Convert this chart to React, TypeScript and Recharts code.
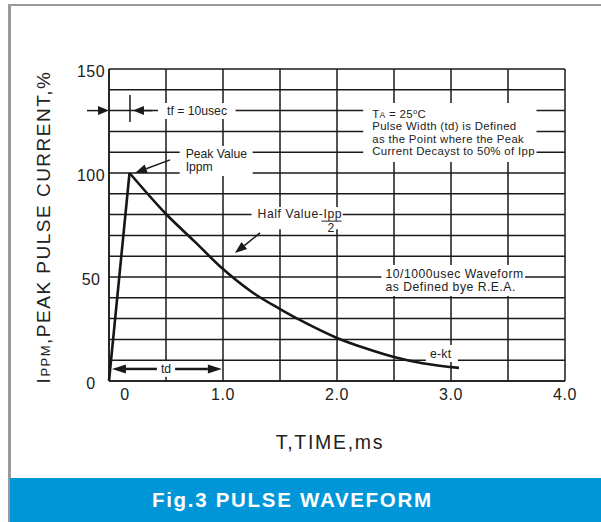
import { CartesianGrid, Line, LineChart, ReferenceArea, ReferenceLine, XAxis, YAxis } from "recharts";

// pulse waveform: time in ms, current in % of Ippm
const timeMs = [0, 0.18, 0.5, 0.75, 1.0, 1.25, 1.5, 1.75, 2.0, 2.25, 2.5, 2.75, 3.07];
const currentPct = [0, 100, 80.3, 67.1, 53.8, 42.9, 34.6, 27.2, 20.7, 15.7, 11.5, 8.5, 6.3];
const peakIndex = 1;

const xTicks = [0, 0.5, 1, 1.5, 2, 2.5, 3, 3.5, 4];
const xTickLabels: Record<number, string> = { 0: "0", 1: "1.0", 2: "2.0", 3: "3.0", 4: "4.0" };
const yTicks = [0, 10, 20, 30, 40, 50, 60, 70, 80, 90, 100, 110, 120, 130, 140, 150];
const yTickLabels: Record<number, string> = { 0: "0", 50: "50", 100: "100", 150: "150" };

// rise is drawn straight, decay as a smooth curve from the peak on
const data = timeMs.map((t, i) => ({
  t,
  rise: i <= peakIndex ? currentPct[i] : null,
  decay: i >= peakIndex ? currentPct[i] : null,
}));

const FONT = "Arial, 'Liberation Sans', sans-serif";
const INK = "#1a1a1a";

// white note boxes that cut the grid (x0,x1 in ms, y0,y1 in %)
const notes = [
  { id: "tf", x0: 0.43, x1: 1.11, y0: 126, y1: 133.6, pad: 9, fs: 12.2, ls: 0, lh: 13, lines: ["tf = 10usec"] },
  { id: "peak", x0: 0.62, x1: 1.26, y0: 98.6, y1: 113, pad: 6, fs: 12.2, ls: 0, lh: 13, lines: ["Peak Value", "Ippm"] },
  { id: "half", x0: 1.25, x1: 2.05, y0: 73, y1: 83.6, pad: 6, fs: 12.2, ls: 0, lh: 13, lines: [] as string[] },
  {
    id: "ta",
    x0: 2.23,
    x1: 3.75,
    y0: 105.3,
    y1: 133.6,
    pad: 9,
    fs: 11.4,
    ls: 0.35,
    lh: 12.4,
    lines: ["TA", "Pulse Width (td) is Defined", "as the Point where the Peak", "Current Decayst to 50% of Ipp"],
  },
  { id: "wave", x0: 2.39, x1: 3.65, y0: 40.9, y1: 55.8, pad: 4, fs: 12.2, ls: 0.5, lh: 13, lines: ["10/1000usec Waveform", "as Defined bye R.E.A."] },
  { id: "ekt", x0: 2.78, x1: 3.06, y0: 9.1, y1: 17.3, pad: 4, fs: 12.2, ls: 0.3, lh: 13, lines: ["e-kt"] },
  { id: "td", x0: 0.42, x1: 0.58, y0: 2, y1: 9.6, pad: 2, fs: 12.2, ls: 0, lh: 13, lines: ["td"] },
];

// arrows: from -> tip
const arrows = [
  { id: "tfL", from: [-0.193, 130], to: [0, 130], head: 11, w: 1.5 },
  { id: "tfR", from: [0.38, 130], to: [0.21, 130], head: 11, w: 1.5 },
  { id: "peak", from: [0.535, 106.3], to: [0.228, 100], head: 12, w: 1.5 },
  { id: "half", from: [1.325, 71.2], to: [1.105, 61.5], head: 12, w: 1.5 },
  { id: "tdL", from: [0.42, 5.8], to: [0.026, 5.8], head: 14, w: 2.5 },
  { id: "tdR", from: [0.58, 5.8], to: [0.99, 5.8], head: 14, w: 2.5 },
];

function ArrowShape(p: any) {
  const { x1, y1, x2, y2, head, w } = p;
  const a = Math.atan2(y2 - y1, x2 - x1);
  const c = Math.cos(a);
  const s = Math.sin(a);
  const bx = x2 - head * c;
  const by = y2 - head * s;
  const hw = 4.5;
  return (
    <g>
      <line x1={x1} y1={y1} x2={bx} y2={by} stroke={INK} strokeWidth={w} />
      <polygon points={`${x2},${y2} ${bx - hw * s},${by + hw * c} ${bx + hw * s},${by - hw * c}`} fill={INK} />
    </g>
  );
}

function noteLabel(note: (typeof notes)[number]) {
  return (p: any) => {
    const vb = p.viewBox;
    const x = vb.x + note.pad;
    const cy = vb.y + vb.height / 2;
    const style = { fontFamily: FONT, fontSize: note.fs, fill: "#222" };
    if (note.id === "half") {
      return (
        <g style={style}>
          <text x={x} y={cy} style={style} letterSpacing={0.6}>
            Half Value-Ipp
          </text>
          <line x1={vb.x + 70} x2={vb.x + 90} y1={cy + 3} y2={cy + 3} stroke="#222" strokeWidth={1} />
          <text x={vb.x + 76} y={cy + 14} style={style}>
            2
          </text>
        </g>
      );
    }
    if (note.id === "td") {
      return (
        <text x={vb.x + vb.width / 2} y={cy + 4} textAnchor="middle" style={style}>
          td
        </text>
      );
    }
    const top = cy - ((note.lines.length - 1) * note.lh) / 2 + 4;
    return (
      <text style={style} letterSpacing={note.ls}>
        {note.lines.map((ln, i) =>
          note.id === "ta" && i === 0 ? (
            <tspan key={i} x={x} y={top}>
              T<tspan fontSize={8.5}>A</tspan> = 25<tspan fontSize={7.5} dy={-4}>o</tspan>
              <tspan dy={4}>C</tspan>
            </tspan>
          ) : (
            <tspan key={i} x={x} y={top + i * note.lh}>
              {ln}
            </tspan>
          )
        )}
      </text>
    );
  };
}

const XTick = (p: any) => {
  const v = p.payload.value;
  const label = xTickLabels[v];
  if (label === undefined) return null;
  return (
    <text x={p.x + (v === 0 ? 16 : 0)} y={p.y + 19} textAnchor="middle" fontFamily={FONT} fontSize={16} fill="#222" letterSpacing={0.6}>
      {label}
    </text>
  );
};

const YTick = (p: any) => {
  const v = p.payload.value;
  const label = yTickLabels[v];
  if (label === undefined) return null;
  return (
    <text x={p.x - 18} y={p.y + 8} textAnchor="middle" fontFamily={FONT} fontSize={16} fill="#222" letterSpacing={0.4}>
      {label}
    </text>
  );
};

const YTitle = (p: any) => {
  const vb = p.viewBox;
  const x = vb.x + vb.width - 59;
  const y = vb.y + vb.height / 2 + 2;
  return (
    <text x={x} y={y} transform={`rotate(-90 ${x} ${y})`} textAnchor="middle" fontFamily={FONT} fontSize={19} fill="#222" letterSpacing={1.5}>
      I<tspan fontSize={13}>PPM</tspan>,PEAK PULSE CURRENT,%
    </text>
  );
};

const XTitle = (p: any) => {
  const vb = p.viewBox;
  return (
    <text x={vb.x + vb.width / 2 - 7} y={vb.y + 68} textAnchor="middle" fontFamily={FONT} fontSize={19.5} fill="#222" letterSpacing={1.7}>
      T,TIME,ms
    </text>
  );
};

export default function App() {
  return (
    <div style={{ position: "absolute", left: 0, top: 0, width: 601, height: 522, background: "#fff", overflow: "hidden" }}>
      <div style={{ position: "absolute", left: 8, top: 4, right: 0, height: 2, background: "#9a9a9a" }} />
      <div style={{ position: "absolute", left: 8, top: 4, bottom: 0, width: 2.5, background: "#9a9a9a" }} />
      <div style={{ position: "absolute", left: 0, top: 0 }}>
        <LineChart width={601} height={522} data={data} margin={{ top: 69, right: 36, bottom: 111, left: 69 }}>
          <CartesianGrid stroke={INK} strokeWidth={1.5} />
          <XAxis
            dataKey="t"
            type="number"
            domain={[0, 4]}
            ticks={xTicks}
            interval={0}
            height={30}
            tickSize={0}
            tickMargin={0}
            tickLine={false}
            axisLine={{ stroke: INK, strokeWidth: 1.5 }}
            tick={<XTick />}
            label={{ content: XTitle }}
          />
          <YAxis
            type="number"
            domain={[0, 150]}
            ticks={yTicks}
            interval={0}
            width={40}
            tickSize={0}
            tickMargin={0}
            tickLine={false}
            axisLine={{ stroke: INK, strokeWidth: 1.5 }}
            tick={<YTick />}
            label={{ content: YTitle }}
          />
          {notes.map((n) => (
            <ReferenceArea
              key={n.id}
              x1={n.x0}
              x2={n.x1}
              y1={n.y0}
              y2={n.y1}
              fill="#fff"
              fillOpacity={1}
              stroke="none"
              label={noteLabel(n)}
            />
          ))}
          <ReferenceLine
            segment={[
              { x: 0.184, y: 137.5 },
              { x: 0.184, y: 124.5 },
            ]}
            stroke={INK}
            strokeWidth={1.5}
          />
          {arrows.map((a) => (
            <ReferenceLine
              key={a.id}
              ifOverflow="visible"
              segment={[
                { x: a.from[0], y: a.from[1] },
                { x: a.to[0], y: a.to[1] },
              ]}
              shape={(p: any) => <ArrowShape {...p} head={a.head} w={a.w} />}
            />
          ))}
          <Line dataKey="rise" type="linear" stroke="#161616" strokeWidth={2.6} dot={false} connectNulls={false} isAnimationActive={false} />
          <Line dataKey="decay" type="monotone" stroke="#161616" strokeWidth={2.6} dot={false} connectNulls={false} isAnimationActive={false} />
        </LineChart>
      </div>
      <div
        style={{
          position: "absolute",
          left: 10,
          top: 478,
          right: 0,
          height: 44,
          background: "#0096d8",
          color: "#fff",
          fontFamily: FONT,
          fontWeight: "bold",
          fontSize: 20.5,
          lineHeight: "44px",
          paddingLeft: 142,
          letterSpacing: 1.7,
          boxSizing: "border-box",
        }}
      >
        Fig.3 PULSE WAVEFORM
      </div>
    </div>
  );
}
